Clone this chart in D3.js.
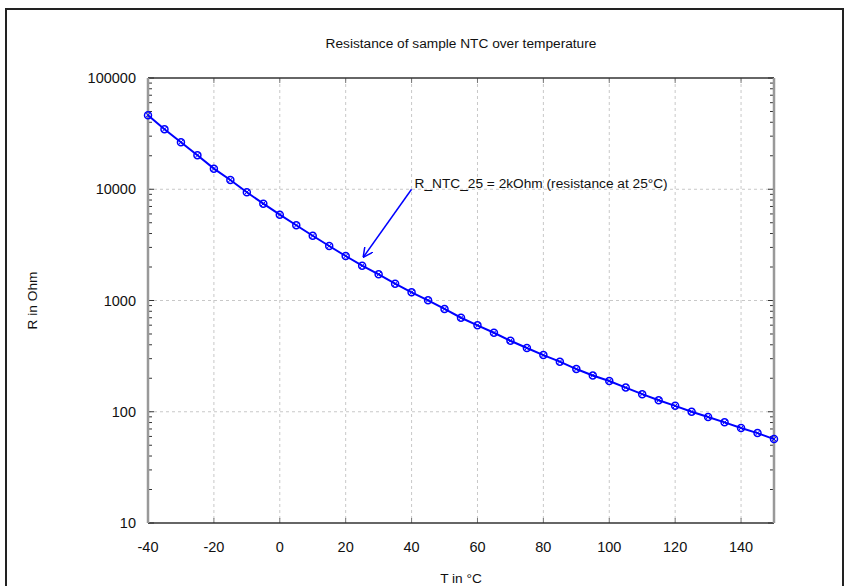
<!DOCTYPE html>
<html>
<head>
<meta charset="utf-8">
<script src="https://cdn.jsdelivr.net/npm/d3@7"></script>
<style>
  body { margin: 0; background: #fff; }
  text { font-family: "Liberation Sans", Arial, sans-serif; fill: #111; }
</style>
</head>
<body>
<div id="chart"></div>
<script>
// values
var temps = [-40, -35, -30, -25, -20, -15, -10, -5, 0, 5, 10, 15, 20, 25, 30, 35, 40, 45, 50, 55,
    60, 65, 70, 75, 80, 85, 90, 95, 100, 105, 110, 115, 120, 125, 130, 135, 140, 145, 150];
var resist = [46300, 34640, 26470, 20220, 15320, 12120, 9400, 7420, 5910, 4745, 3819, 3090, 2512, 2056,
    1720, 1416, 1185, 1004, 839, 700, 598, 513, 435, 374, 323, 282, 242, 212, 189, 165, 144, 127, 113,
    100, 89.6, 80.3, 71.4, 64.3, 56.8];
var xTicks = [-40, -20, 0, 20, 40, 60, 80, 100, 120, 140];
var yTicks = [10, 100, 1000, 10000, 100000];
var titleText = "Resistance of sample NTC over temperature";
var xLabel = "T in \u00b0C";
var yLabel = "R in Ohm";
var noteText = "R_NTC_25 = 2kOhm (resistance at 25\u00b0C)";
var noteFrom = [40, 10000];
var noteTo = [25.3, 2440];

var W = 846, H = 586;
var margin = {top: 78, right: 72, bottom: 63, left: 148},
    width = W - margin.left - margin.right,
    height = H - margin.top - margin.bottom;

var svg = d3.select("#chart")
    .append("svg")
    .attr("width", W)
    .attr("height", H);

// outer frame
svg.append("path")
    .attr("d", "M6,590 L6,9 L843,9 L843,590")
    .attr("fill", "none")
    .attr("stroke", "#222")
    .attr("stroke-width", 2);

svg.append("text")
    .attr("x", margin.left + width / 2)
    .attr("y", 48)
    .attr("text-anchor", "middle")
    .style("font-size", "13.7px")
    .text(titleText);

var g = svg.append("g")
    .attr("transform", `translate(${margin.left},${margin.top})`);

var x = d3.scaleLinear().domain([-40, 150]).range([0, width]);
var y = d3.scaleLog().domain([10, 100000]).range([height, 0]);

// grid
g.append("g")
    .selectAll("line")
    .data(xTicks.filter(d => d > -40))
    .join("line")
    .attr("x1", d => x(d)).attr("x2", d => x(d))
    .attr("y1", 0).attr("y2", height)
    .attr("stroke", "#c8c8c8")
    .attr("stroke-dasharray", "3,3");
g.append("g")
    .selectAll("line")
    .data(yTicks.slice(1, -1))
    .join("line")
    .attr("y1", d => y(d)).attr("y2", d => y(d))
    .attr("x1", 0).attr("x2", width)
    .attr("stroke", "#c8c8c8")
    .attr("stroke-dasharray", "3,3");

// minor ticks on the log axis, both sides
var minor = [];
yTicks.slice(0, -1).forEach(function (d) {
    for (var k = 2; k < 10; k++) minor.push(d * k);
});
[0, width].forEach(function (xx, i) {
    var dir = i == 0 ? 1 : -1;
    g.append("g")
        .selectAll("line")
        .data(minor)
        .join("line")
        .attr("x1", xx).attr("x2", xx + dir * 4)
        .attr("y1", d => y(d)).attr("y2", d => y(d))
        .attr("stroke", "#333");
    g.append("g")
        .selectAll("line")
        .data(yTicks)
        .join("line")
        .attr("x1", xx).attr("x2", xx + dir * 6)
        .attr("y1", d => y(d)).attr("y2", d => y(d))
        .attr("stroke", "#333");
});
[0, height].forEach(function (yy, i) {
    var dir = i == 0 ? 1 : -1;
    g.append("g")
        .selectAll("line")
        .data(xTicks)
        .join("line")
        .attr("x1", d => x(d)).attr("x2", d => x(d))
        .attr("y1", yy).attr("y2", yy + dir * 5)
        .attr("stroke", "#777");
});

// frame of the plot: top/bottom dark, left/right grey
g.append("line").attr("x1", 0).attr("x2", width).attr("y1", 0).attr("y2", 0)
    .attr("stroke", "#333").attr("stroke-width", 1.5);
g.append("line").attr("x1", 0).attr("x2", width).attr("y1", height).attr("y2", height)
    .attr("stroke", "#333").attr("stroke-width", 1.5);
g.append("line").attr("x1", 0).attr("x2", 0).attr("y1", 0).attr("y2", height)
    .attr("stroke", "#999").attr("stroke-width", 2.5);
g.append("line").attr("x1", width).attr("x2", width).attr("y1", 0).attr("y2", height)
    .attr("stroke", "#999").attr("stroke-width", 2.5);

// tick labels
g.append("g")
    .selectAll("text")
    .data(xTicks)
    .join("text")
    .attr("x", d => x(d))
    .attr("y", height + 29)
    .attr("text-anchor", "middle")
    .style("font-size", "14.5px")
    .text(d => d);
g.append("g")
    .selectAll("text")
    .data(yTicks)
    .join("text")
    .attr("x", -12)
    .attr("y", d => y(d))
    .attr("dy", "0.35em")
    .attr("text-anchor", "end")
    .style("font-size", "14.5px")
    .text(d => d);

svg.append("text")
    .attr("x", margin.left + width / 2)
    .attr("y", 583)
    .attr("text-anchor", "middle")
    .style("font-size", "13.7px")
    .text(xLabel);
svg.append("text")
    .attr("transform", `translate(37,${margin.top + height / 2}) rotate(-90)`)
    .attr("text-anchor", "middle")
    .style("font-size", "13.7px")
    .text(yLabel);

// curve
var data = temps.map((t, i) => ({t: t, r: resist[i]}));
var line = d3.line().x(d => x(d.t)).y(d => y(d.r));
g.append("path")
    .datum(data)
    .attr("d", line)
    .attr("fill", "none")
    .attr("stroke", "#0000ff")
    .attr("stroke-width", 2);

var marks = g.append("g")
    .selectAll("g")
    .data(data)
    .join("g")
    .attr("transform", d => `translate(${x(d.t)},${y(d.r)})`);
marks.append("circle")
    .attr("r", 3.5)
    .attr("fill", "none")
    .attr("stroke", "#0000ff")
    .attr("stroke-width", 1.5);
marks.append("path")
    .attr("d", "M-2.5,-2.5L2.5,2.5M-2.5,2.5L2.5,-2.5")
    .attr("stroke", "#0000ff")
    .attr("stroke-width", 1);

// annotation with arrow
svg.append("defs").append("marker")
    .attr("id", "head")
    .attr("viewBox", "0 0 10 10")
    .attr("refX", 10).attr("refY", 5)
    .attr("markerWidth", 10).attr("markerHeight", 10)
    .attr("markerUnits", "userSpaceOnUse")
    .attr("orient", "auto")
    .append("path")
    .attr("d", "M0,0 L10,5 L0,10")
    .attr("fill", "none")
    .attr("stroke", "#0000ff")
    .attr("stroke-width", 1.5);
g.append("line")
    .attr("x1", x(noteFrom[0])).attr("y1", y(noteFrom[1]))
    .attr("x2", x(noteTo[0])).attr("y2", y(noteTo[1]))
    .attr("stroke", "#0000ff")
    .attr("stroke-width", 1.5)
    .attr("marker-end", "url(#head)");
g.append("text")
    .attr("x", x(noteFrom[0]) + 3)
    .attr("y", y(noteFrom[1]))
    .attr("dy", "-0.1em")
    .style("font-size", "13.7px")
    .text(noteText);
</script>
</body>
</html>
